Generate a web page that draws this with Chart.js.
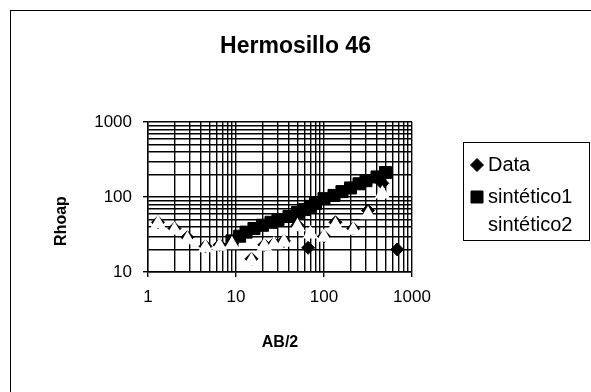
<!DOCTYPE html>
<html><head><meta charset="utf-8">
<script src="https://cdn.jsdelivr.net/npm/chart.js@4/dist/chart.umd.min.js"></script>
<style>html,body{margin:0;padding:0;background:#fff}</style>
</head><body>
<canvas id="c" width="591" height="392"></canvas>
<script>
// ---- data ----
const chartTitle = "Hermosillo 46";
const xTitle = "AB/2";
const yTitle = "Rhoap";
const seriesNames = ["Data", "sintético1", "sintético2"];
const xTickLabels = ["1", "10", "100", "1000"];
const yTickLabels = ["10", "100", "1000"];
const dataAB  = [1.3, 2, 2.8, 4.5, 6.5, 9, 15, 21, 27, 35, 50, 66, 100, 135, 215, 316, 460, 680];
const dataRho = [46, 38, 29, 22, 23, 24, 15, 23, 24, 26, 42, 21, 30, 46, 38, 66, 152, 20];
const sint1AB  = [9, 11, 13, 16, 20, 25, 30, 40, 50, 60, 70, 80, 100, 130, 160, 200, 250, 300, 400, 500];
const sint1Rho = [26, 30, 34, 38, 42, 46, 50, 55, 62, 68, 75, 82, 95, 105, 118, 132, 150, 165, 185, 212];
const sint2AB  = [1.3, 2, 2.8, 4.5, 6.5, 9, 15, 21, 27, 35, 50, 70, 100, 135, 215, 316, 460];
const sint2Rho = [44, 36, 27, 21, 22, 23, 14, 22, 23, 25, 40, 32, 29, 42, 36, 58, 110];

const FONT = "'Liberation Sans', Arial, sans-serif";
const pts = (xs, ys) => xs.map((x, i) => ({x: x, y: ys[i]}));

function logTicks(min, max) {
  const t = [];
  for (let e = Math.round(Math.log10(min)); e < Math.round(Math.log10(max)); e++) {
    for (let m = 1; m < 10; m++) t.push({value: m * Math.pow(10, e)});
  }
  t.push({value: max});
  return t;
}
function isMajor(v) { const l = Math.log10(v); return Math.abs(l - Math.round(l)) < 1e-9; }
function labelFor(list) { return (v) => { if (!isMajor(v)) return ''; const s = String(Math.round(v)); return list.includes(s) ? s : ''; }; }

const frame = {
  id: 'frame',
  beforeDraw(chart) {
    const ctx = chart.ctx;
    ctx.save();
    ctx.fillStyle = '#fff';
    ctx.fillRect(0, 0, chart.width, chart.height);
    ctx.strokeStyle = '#000';
    ctx.lineWidth = 1;
    ctx.strokeRect(10.5, 10.5, 700, 500);
    ctx.restore();
  },
  afterDraw(chart) {
    const ctx = chart.ctx;
    ctx.save();
    ctx.font = "bold 16px " + FONT;
    ctx.fillStyle = '#000';
    ctx.textAlign = 'center';
    ctx.textBaseline = 'middle';
    ctx.translate(62, 221);
    ctx.rotate(-Math.PI / 2);
    ctx.fillText(yTitle, 0, 0);
    ctx.restore();
    // legend
    ctx.save();
    ctx.strokeStyle = '#000';
    ctx.lineWidth = 1;
    ctx.strokeRect(463.5, 142.5, 126, 98);
    const ys = [165, 197, 225];
    ctx.font = "20px " + FONT;
    ctx.textBaseline = 'middle';
    chart.data.datasets.forEach((ds, i) => {
      ctx.fillStyle = ds.backgroundColor; ctx.strokeStyle = ds.borderColor; ctx.lineWidth = 1;
      Chart.helpers.drawPoint(ctx, {pointStyle: ds.pointStyle, radius: ds.pointRadius, borderWidth: 1, rotation: 0}, 477, ys[i]);
      ctx.fillStyle = '#000';
      ctx.fillText(ds.label, 488, ys[i]);
    });
    ctx.restore();
  }
};

const gridOpts = {color: '#000', lineWidth: 1.4, tickLength: 5,
  tickColor: (c) => (c.tick && isMajor(c.tick.value)) ? '#000' : 'rgba(0,0,0,0)'};

new Chart(document.getElementById('c'), {
  type: 'scatter',
  data: {
    datasets: [
      {label: seriesNames[0], data: pts(dataAB, dataRho), pointStyle: 'rectRot', pointRadius: 6.5,
       backgroundColor: '#000', borderColor: '#000', borderWidth: 1, order: 3},
      {label: seriesNames[1], data: pts(sint1AB, sint1Rho), pointStyle: 'rect', pointRadius: 8.5,
       backgroundColor: '#000', borderColor: '#000', borderWidth: 1, order: 2},
      {label: seriesNames[2], data: pts(sint2AB, sint2Rho), pointStyle: 'triangle', pointRadius: 7.5,
       backgroundColor: '#fff', borderColor: '#fff', borderWidth: 1.5, order: 1}
    ]
  },
  options: {
    responsive: false,
    animation: false,
    devicePixelRatio: 1,
    layout: {padding: 0},
    plugins: {
      legend: {display: false},
      tooltip: {enabled: false},
      title: {display: true, text: chartTitle, color: '#000',
        font: {family: FONT, size: 23, weight: 'bold', lineHeight: 1.2},
        padding: {top: 33, bottom: 61.4}}
    },
    scales: {
      x: {
        type: 'logarithmic', min: 1, max: 1000, position: 'bottom',
        afterBuildTicks: (s) => { s.ticks = logTicks(1, 1000); },
        afterFit: (s) => { s.height = 120; },
        ticks: {autoSkip: false, maxRotation: 0, color: '#000', padding: 10,
          font: {family: FONT, size: 17}, callback: labelFor(xTickLabels)},
        grid: gridOpts,
        border: {color: '#000', width: 1.4},
        title: {display: true, text: xTitle, color: '#000',
          font: {family: FONT, size: 16, weight: 'bold', lineHeight: 1.2},
          padding: {top: 0, bottom: 40}}
      },
      y: {
        type: 'logarithmic', min: 10, max: 1000, position: 'left',
        afterBuildTicks: (s) => { s.ticks = logTicks(10, 1000); },
        afterFit: (s) => { s.width = 148; },
        ticks: {autoSkip: false, color: '#000', padding: 11,
          font: {family: FONT, size: 17}, callback: labelFor(yTickLabels)},
        grid: gridOpts,
        border: {color: '#000', width: 1.4}
      },
      spacer: {
        type: 'linear', position: 'right', display: true,
        afterFit: (s) => { s.width = 179; },
        ticks: {display: false}, grid: {display: false}, border: {display: false}
      }
    }
  },
  plugins: [frame]
});
</script>
</body></html>
